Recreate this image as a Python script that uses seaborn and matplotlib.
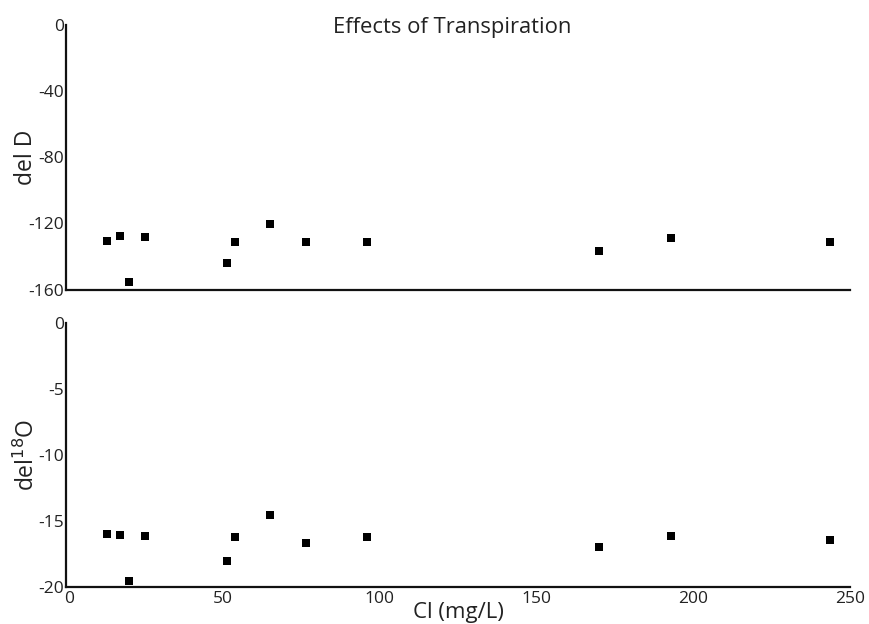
import matplotlib
matplotlib.use("Agg")
import matplotlib.pyplot as plt
import matplotlib.transforms as mtransforms
import seaborn as sns
import pandas as pd

# Data
cl = [13.0, 17.2, 20.2, 25.1, 51.3, 54.0, 65.0, 76.5, 96.1, 170.0, 192.8, 243.5]
del_d = [-130.6, -127.7, -155.6, -128.5, -143.9, -131.2, -120.6, -131.2, -131.2, -136.6, -129.1, -131.2]
del_18o = [-15.97, -16.04, -19.5, -16.12, -18.03, -16.22, -14.55, -16.65, -16.22, -16.95, -16.14, -16.42]

x_ticks = [0, 50, 100, 150, 200, 250]
d_ticks = [0, -40, -80, -120, -160]
o_ticks = [0, -5, -10, -15, -20]

df = pd.DataFrame({"cl": cl, "dD": del_d, "d18O": del_18o})

sns.set_theme(style="white")
plt.rcParams["font.family"] = ["Open Sans", "DejaVu Sans"]

W, H = 869, 624
fig = plt.figure(figsize=(W / 100, H / 100), dpi=100)
fig.patch.set_facecolor("white")

left = 66 / W
width = (850 - 66) / W
ax1 = fig.add_axes([left, 1 - 289.5 / H, width, 264.5 / H])
ax2 = fig.add_axes([left, 1 - 587.3 / H, width, 264.3 / H])

for ax, col, ticks, lo in [(ax1, "dD", d_ticks, -160), (ax2, "d18O", o_ticks, -20)]:
    sns.scatterplot(data=df, x="cl", y=col, ax=ax, marker="s", s=26,
                    color="black", linewidth=0, legend=False)
    ax.set_xlim(0, 250)
    ax.set_ylim(lo, 0)
    ax.set_yticks(ticks)
    ax.set_yticklabels([str(t) for t in ticks])
    ax.set_facecolor("white")
    for s in ["top", "right"]:
        ax.spines[s].set_visible(False)
    for s in ["left", "bottom"]:
        ax.spines[s].set_color("#111111")
        ax.spines[s].set_linewidth(1.6)
    ax.tick_params(axis="both", length=0, pad=1.5, labelsize=12.5, colors="#222222")
    ax.set_xlabel("")

ax1.set_xticks([])
ax2.set_xticks(x_ticks)
ax2.set_xticklabels([str(t) for t in x_ticks])
ax2.tick_params(axis="x", pad=3)

# nudge the "0" x tick label so it does not collide with the "-20" y tick label
lab0 = ax2.get_xticklabels()[0]
lab0.set_transform(lab0.get_transform() + mtransforms.ScaledTranslation(3.5 / 100, 0, fig.dpi_scale_trans))

ax1.set_ylabel("del D", fontsize=16.5, color="#222222")
ax2.set_ylabel("del$^{18}$O", fontsize=16.5, color="#222222")
ax1.yaxis.set_label_coords(-0.036, 0.5)
ax2.yaxis.set_label_coords(-0.033, 0.5)
ax2.set_xlabel("Cl (mg/L)", fontsize=16, color="#222222", labelpad=-4)

fig.text(452 / W, 1 - 27.5 / H, "Effects of Transpiration", ha="center", va="center",
         fontsize=15.8, color="#222222")

fig.savefig("out.png", dpi=100, facecolor="white")
